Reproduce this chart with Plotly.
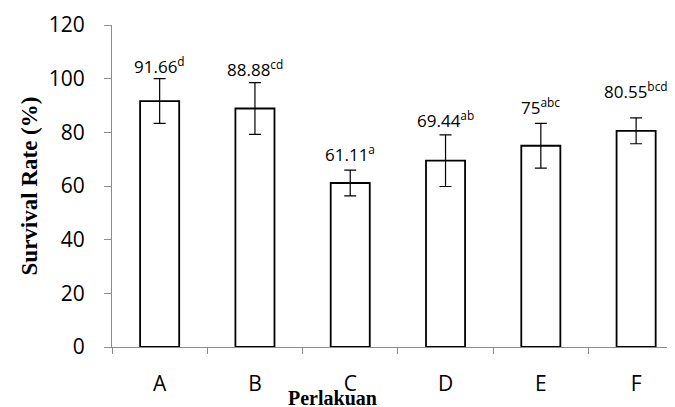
import plotly.graph_objects as go

categories = ["A", "B", "C", "D", "E", "F"]
survival = [91.66, 88.88, 61.11, 69.44, 75, 80.55]
errors = [8.33, 9.62, 4.81, 9.62, 8.33, 4.81]
letters = ["d", "cd", "a", "ab", "abc", "bcd"]
label_text = ["91.66", "88.88", "61.11", "69.44", "75", "80.55"]
label_y = [105.0, 103.8, 72.3, 84.7, 89.6, 95.6]
y_ticks = [0, 20, 40, 60, 80, 100, 120]

fig = go.Figure()
fig.add_trace(go.Bar(
    x=categories, y=survival,
    marker=dict(color="white", line=dict(color="black", width=1.8)),
    error_y=dict(type="data", array=errors, visible=True, color="black",
                 thickness=1.2, width=6),
    showlegend=False,
))

for c, t, l, yv in zip(categories, label_text, letters, label_y):
    fig.add_annotation(
        x=c, y=yv, xref="x", yref="y",
        text=f"{t}<sup>{l}</sup>", showarrow=False,
        font=dict(family="Open Sans", size=17, color="black"),
        xanchor="center", yanchor="middle",
    )

fig.add_annotation(
    x=0.391, y=-0.118, xref="paper", yref="paper",
    text="<b>Perlakuan</b>", showarrow=False,
    font=dict(family="Liberation Serif", size=20, color="black"),
    xanchor="center", yanchor="top",
)

# page body has an 8px default margin, so the figure is sized to fit the window
fig.update_layout(
    width=667, height=399,
    margin=dict(l=104, r=0, t=17, b=60, autoexpand=False),
    plot_bgcolor="white", paper_bgcolor="white",
    bargap=0.59,
    font=dict(family="Open Sans", color="black"),
)
fig.update_xaxes(
    range=[-0.5, 5.408], automargin=False,
    showline=True, linecolor="#8c8c8c", linewidth=1,
    ticks="outside", tickson="boundaries", ticklen=6, tickcolor="#8c8c8c",
    tickfont=dict(family="Open Sans", size=21, color="black"),
    ticklabelstandoff=18,
    showgrid=False, zeroline=False,
)
fig.update_yaxes(
    range=[0, 120], tickvals=y_ticks, automargin=False,
    showline=True, linecolor="#8c8c8c", linewidth=1,
    ticks="outside", ticklen=7, tickcolor="#8c8c8c",
    tickfont=dict(family="Open Sans", size=21, color="black"),
    ticklabelstandoff=15,
    showgrid=False, zeroline=False,
    title=dict(text="<b>Survival Rate (%)</b>", standoff=4,
               font=dict(family="Liberation Serif", size=23, color="black")),
)

fig.write_html("out.html")
